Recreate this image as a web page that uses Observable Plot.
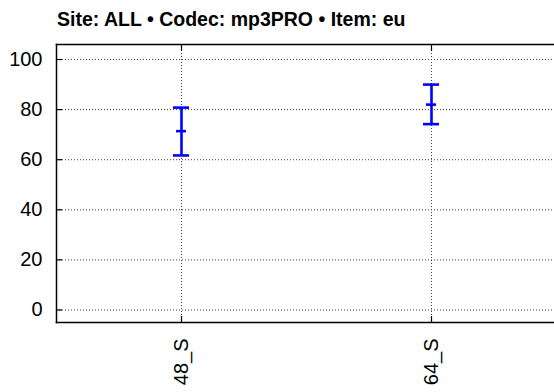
<!DOCTYPE html>
<html>
<head>
<meta charset="utf-8">
<script src="https://cdn.jsdelivr.net/npm/d3@7"></script>
<script src="https://cdn.jsdelivr.net/npm/@observablehq/plot@0.6"></script>
<style>
  html, body { margin: 0; padding: 0; background: #fff; overflow: hidden; width: 554px; height: 392px; }
  #title { height: 36px; box-sizing: border-box; padding-left: 57px; padding-top: 8px;
    font: bold 19.5px "Liberation Sans", Arial, sans-serif; color: #000; line-height: 22px; white-space: nowrap; }
</style>
</head>
<body>
<div id="title">Site: ALL • Codec: mp3PRO • Item: eu</div>
<div id="chart"></div>
<script>
const categories = ["48_S", "64_S"];
const means = [71.4, 82.0];
const lows = [61.7, 74.2];
const highs = [80.8, 90.0];
const yTicks = [0, 20, 40, 60, 80, 100];

const data = categories.map((c, i) => ({cat: c, mean: means[i], low: lows[i], high: highs[i]}));

const blue = "#0000ff";
const gridStyle = {stroke: "#444", strokeOpacity: 1, strokeWidth: 1, strokeDasharray: "1,2"};

const plot = Plot.plot({
  width: 557,
  height: 356,
  marginLeft: 56,
  marginRight: 1,
  marginTop: 8,
  marginBottom: 70,
  style: {fontFamily: "Liberation Sans, Arial, sans-serif", fontSize: "20px", color: "#000", background: "#fff", maxWidth: "none"},
  x: {type: "band", domain: categories, paddingInner: 0.936, paddingOuter: 0.468, label: null},
  y: {domain: [-5, 106], label: null},
  marks: [
    Plot.gridY(yTicks, gridStyle),
    Plot.gridX(categories, gridStyle),
    Plot.axisY(yTicks, {anchor: "left", tickSize: -6, tickPadding: 20, strokeWidth: 1.2, label: null, fontSize: 20}),
    Plot.axisX(categories, {anchor: "bottom", tickSize: -6, tickPadding: 22, tickRotate: -90, strokeWidth: 1.2, label: null, fontSize: 20}),
    Plot.axisX(categories, {anchor: "top", tickSize: -6, tickFormat: () => "", strokeWidth: 1.2, label: null}),
    Plot.frame({anchor: "top", stroke: "#000", strokeWidth: 1.5}),
    Plot.frame({anchor: "bottom", stroke: "#000", strokeWidth: 1.5}),
    Plot.frame({anchor: "left", stroke: "#000", strokeWidth: 1.5}),
    Plot.ruleX(data, {x: "cat", y1: "low", y2: "high", stroke: blue, strokeWidth: 2.6}),
    Plot.tickY(data, {x: "cat", y: "high", stroke: blue, strokeWidth: 2.6}),
    Plot.tickY(data, {x: "cat", y: "low", stroke: blue, strokeWidth: 2.6}),
    Plot.tickY(data, {x: "cat", y: "mean", stroke: blue, strokeWidth: 2.6, insetLeft: 3, insetRight: 3})
  ]
});
document.getElementById("chart").appendChild(plot);
</script>
</body>
</html>
